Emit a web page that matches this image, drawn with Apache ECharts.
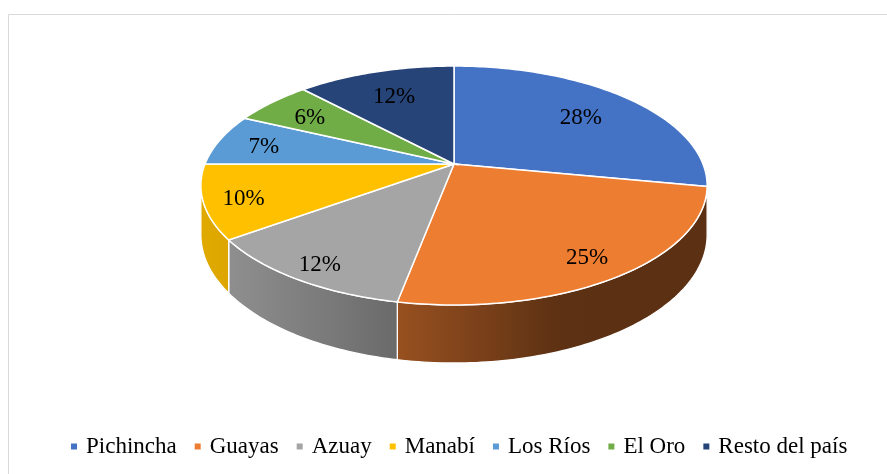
<!DOCTYPE html>
<html><head><meta charset="utf-8">
<script src="https://cdn.jsdelivr.net/npm/echarts@6/dist/echarts.min.js"></script>
<style>html,body{margin:0;padding:0;background:#fff}#c{width:887px;height:474px}</style>
</head><body><div id="c"></div>
<script>
// ---- data ----
const categories = ['Pichincha', 'Guayas', 'Azuay', 'Manabí', 'Los Ríos', 'El Oro', 'Resto del país'];
const shares = [28, 25, 12, 10, 7, 6, 12];
const colors = ['#4472C4', '#ED7D31', '#A5A5A5', '#FFC000', '#5B9BD5', '#70AD47', '#264478'];

// ---- tilted-disc projection (layout) ----
const CX = 454, CY = 164, RX = 249, RY = 115.6, PERSP = 0.18, DEPTH = 47.6;
const FONT = 'Liberation Serif, Times New Roman, serif';
const total = shares.reduce((a, b) => a + b, 0);
const starts = [];
(function () { let acc = 0; shares.forEach(v => { starts.push(acc); acc += v; }); })();

function proj(theta, r, down) {
  const X = r * Math.sin(theta), Z = r * Math.cos(theta);
  const k = 1 / (1 + PERSP * Z);
  return [CX + RX * X * k, CY - RY * Z * k + (down ? DEPTH * k : 0)];
}
const TH_R = Math.PI / 2 + Math.asin(PERSP);
const TH_L = 3 * Math.PI / 2 - Math.asin(PERSP);
const LIGHT = 250 * Math.PI / 180;
function shadeFactor(t) { return 0.39 + 0.49 * Math.max(0, Math.cos(t - LIGHT)); }
function shade(hex, f) {
  const n = parseInt(hex.slice(1), 16);
  const r = Math.round(((n >> 16) & 255) * f), g = Math.round(((n >> 8) & 255) * f), b = Math.round((n & 255) * f);
  return 'rgb(' + r + ',' + g + ',' + b + ')';
}
function arc(a0, a1, down) {
  const pts = [];
  const n = Math.max(2, Math.ceil((a1 - a0) / (Math.PI / 180)));
  for (let j = 0; j <= n; j++) pts.push(proj(a0 + (a1 - a0) * j / n, 1, down));
  return pts;
}

function renderSlice(i) {
  return function (params, api) {
    const v = api.value(0);
    const a0 = starts[i] / total * 2 * Math.PI;
    const a1 = (starts[i] + v) / total * 2 * Math.PI;
    const children = [];
    // side wall (front part only)
    const w0 = Math.max(a0, TH_R), w1 = Math.min(a1, TH_L);
    if (w1 > w0) {
      const top = arc(w0, w1, false), bot = arc(w0, w1, true).reverse();
      const xs = top.map(p => p[0]);
      const xmin = Math.min.apply(null, xs), xmax = Math.max.apply(null, xs);
      const stops = [];
      const n = 12;
      for (let j = 0; j <= n; j++) {
        const t = w0 + (w1 - w0) * j / n;
        const x = proj(t, 1, false)[0];
        stops.push({ offset: xmax > xmin ? (x - xmin) / (xmax - xmin) : 0, color: shade(colors[i], shadeFactor(t)) });
      }
      stops.sort((p, q) => p.offset - q.offset);
      children.push({
        type: 'polygon', z2: 1,
        shape: { points: top.concat(bot) },
        style: { fill: { type: 'linear', x: 0, y: 0, x2: 1, y2: 0, colorStops: stops }, stroke: '#fff', lineWidth: 1.3 }
      });
    }
    // top face
    const face = [[CX, CY]].concat(arc(a0, a1, false));
    children.push({
      type: 'polygon', z2: 2,
      shape: { points: face },
      style: { fill: colors[i], stroke: '#fff', lineWidth: 1.5 }
    });
    // label
    const am = (a0 + a1) / 2;
    const lr = 0.79 - 0.075 * Math.cos(am) - 0.035 * Math.sin(am);
    const lp = proj(am, lr, false);
    children.push({
      type: 'text', z2: 5, x: lp[0], y: lp[1] + 3,
      style: { text: Math.round(v / total * 100) + '%', fill: '#000', fontSize: 23, fontFamily: FONT, align: 'center', verticalAlign: 'middle' }
    });
    return { type: 'group', children: children };
  };
}

const chart = echarts.init(document.getElementById('c'), null, { renderer: 'canvas' });
chart.setOption({
  animation: false,
  backgroundColor: '#fff',
  graphic: [{
    type: 'rect', silent: true,
    shape: { x: 8.5, y: 14.5, width: 900, height: 500 },
    style: { fill: 'none', stroke: '#d9d9d9', lineWidth: 1 }
  }],
  legend: {
    data: categories,
    icon: 'rect', itemWidth: 6, itemHeight: 6, itemGap: 18,
    left: 66, top: 430,
    textStyle: { fontFamily: FONT, fontSize: 23, color: '#000', padding: [0, 0, 0, 4] },
    selectedMode: false
  },
  series: categories.map((name, i) => ({
    type: 'custom', name: name, coordinateSystem: 'none',
    data: [[shares[i]]],
    itemStyle: { color: colors[i] },
    renderItem: renderSlice(i),
    silent: true
  }))
});
</script></body></html>
